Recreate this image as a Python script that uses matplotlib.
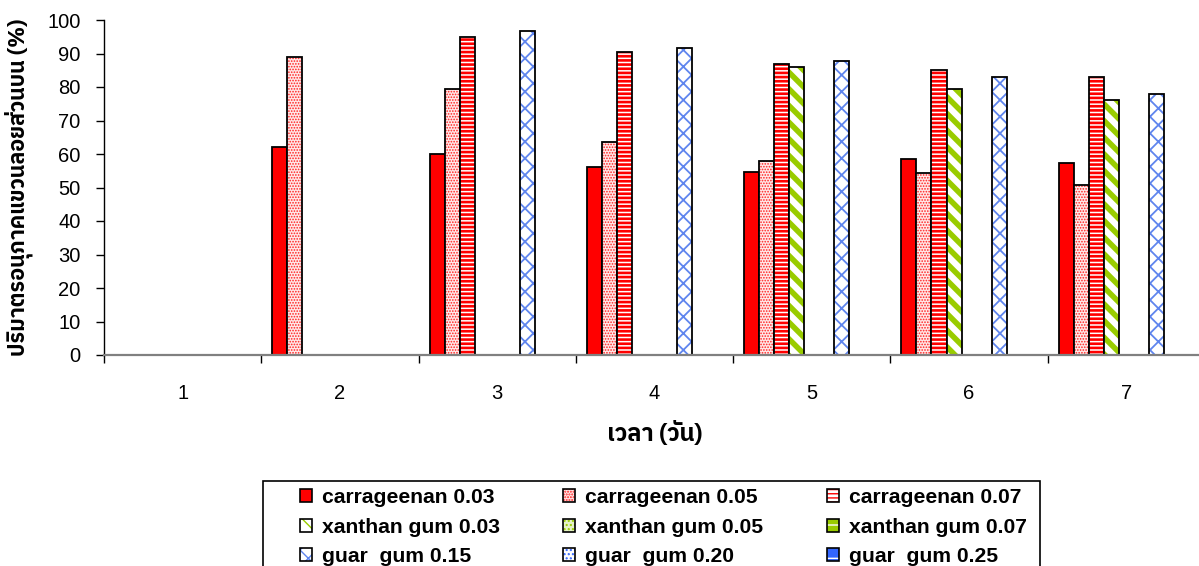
import numpy as np
import matplotlib
matplotlib.use('Agg')
import matplotlib.pyplot as plt
from matplotlib import font_manager
from matplotlib.ft2font import FT2Font
from matplotlib.patches import Patch, Rectangle

days = ['1', '2', '3', '4', '5', '6', '7']

carr_003 = [np.nan, 62.1, 60.0, 56.1, 54.5, 58.5, 57.4]
carr_005 = [np.nan, 89.0, 79.3, 63.6, 58.0, 54.3, 50.7]
carr_007 = [np.nan, np.nan, 95.0, 90.5, 86.9, 85.0, 83.1]
xan_003 = [np.nan, np.nan, np.nan, np.nan, 86.1, 79.5, 76.2]
xan_005 = [np.nan] * 7
xan_007 = [np.nan] * 7
guar_015 = [np.nan, np.nan, 96.7, 91.6, 87.8, 83.0, 78.0]
guar_020 = [np.nan] * 7
guar_025 = [np.nan] * 7

labels = ['carrageenan 0.03', 'carrageenan 0.05', 'carrageenan 0.07',
          'xanthan gum 0.03', 'xanthan gum 0.05', 'xanthan gum 0.07',
          'guar  gum 0.15', 'guar  gum 0.20', 'guar  gum 0.25']
series = [carr_003, carr_005, carr_007, xan_003, xan_005, xan_007,
          guar_015, guar_020, guar_025]

# (face, hatch, hatch colour, hatch linewidth)
styles = [
    ('#FF0000', None, '#FF0000', 1.0),
    ('#FFE8E8', '......', '#FF2020', 0.8),
    ('white', '----', '#FF0000', 1.9),
    ('white', '\\\\', '#99CC00', 4.0),
    ('#E6F2C8', '....', '#99CC00', 0.8),
    ('#99CC00', '-', 'white', 1.6),
    ('white', 'xx', '#5F85EE', 1.3),
    ('white', '....', '#3366FF', 0.8),
    ('#3366FF', '-', 'white', 1.6),
]


def find_thai():
    names = []
    for f in font_manager.fontManager.ttflist:
        try:
            if ord('\u0e1b') in FT2Font(f.fname).get_charmap():
                names.append(f.name)
        except Exception:
            pass
    for n in names:
        if 'Thai' in n:
            return n
    return names[0] if names else 'DejaVu Sans'


thai = find_thai()
plt.rcParams['font.family'] = ['Liberation Sans', 'DejaVu Sans']

fig = plt.figure(figsize=(11.99, 5.66), dpi=100)
ax = fig.add_axes([104 / 1199, 1 - 355 / 566, 1101 / 1199, 335 / 566])

x = np.arange(len(days))
w = 0.86 / 9

handles = []
for i, (vals, (face, hatch, hc, hlw)) in enumerate(zip(series, styles)):
    pos = x + (i - 4) * w
    with plt.rc_context({'hatch.linewidth': hlw}):
        b = ax.bar(pos, vals, w, color=face, edgecolor=hc, hatch=hatch, linewidth=0)
        for p in b:
            try:
                p.set_hatch_linewidth(hlw)
            except AttributeError:
                pass
        ax.bar(pos, vals, w, fill=False, edgecolor='black', linewidth=1.3)
        h1 = Patch(facecolor=face, edgecolor=hc, hatch=hatch, linewidth=0)
        try:
            h1.set_hatch_linewidth(hlw)
        except AttributeError:
            pass
    h2 = Patch(fill=False, edgecolor='black', linewidth=1.2)
    handles.append((h1, h2))

ax.set_xlim(-0.5, len(days) - 0.5)
ax.set_ylim(0, 100)
ax.set_yticks(range(0, 101, 10))
ax.set_xticks(x)
ax.set_xticklabels(days)
ax.set_xticks(np.arange(-0.5, len(days), 1), minor=True)
ax.tick_params(axis='x', which='major', length=0, pad=21, labelsize=14.5)
ax.tick_params(axis='x', which='minor', length=6, width=1, color='black')
ax.tick_params(axis='y', length=6, width=1, pad=11, labelsize=14.5)

ax.spines['top'].set_visible(False)
ax.spines['right'].set_visible(False)
ax.spines['left'].set_linewidth(1)
ax.spines['bottom'].set_color('#808080')
ax.spines['bottom'].set_linewidth(1.6)

ax.set_ylabel('ปริมาตรอนุภาคแขวนลอยส่วนบน (%)', family=[thai, 'DejaVu Sans'],
              fontsize=15.5, fontweight='bold', labelpad=10)
ax.set_xlabel('เวลา (วัน)', family=[thai, 'DejaVu Sans'], fontsize=17,
              fontweight='bold', labelpad=13)

# legend (row-major order as in the original)
order = [0, 3, 6, 1, 4, 7, 2, 5, 8]
leg = fig.legend([handles[k] for k in order], [labels[k] for k in order],
                 ncol=3, loc='upper left', bbox_to_anchor=(300 / 1199, 1 - 488 / 566),
                 frameon=False, prop={'weight': 'bold', 'size': 15.2},
                 handlelength=0.57, handleheight=0.57, handletextpad=0.47,
                 columnspacing=3.0, labelspacing=0.5, borderpad=0, borderaxespad=0)
fig.patches.append(Rectangle((263 / 1199, -0.05), (1040 - 263) / 1199, 0.05 + 85 / 566,
                             transform=fig.transFigure, fill=False,
                             edgecolor='black', linewidth=1.2))

fig.savefig('out.png', dpi=100)
